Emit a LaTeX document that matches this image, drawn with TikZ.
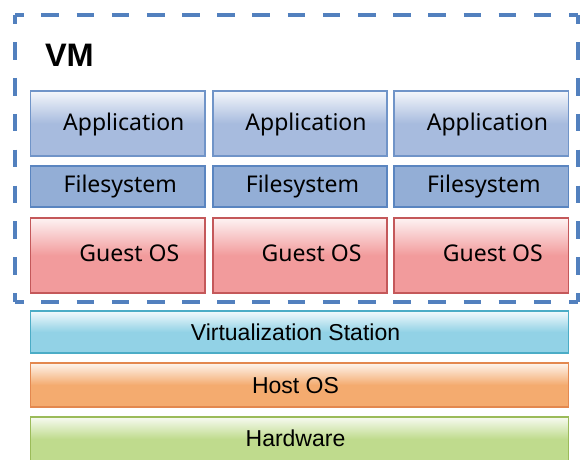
\documentclass[tikz,border=0pt]{standalone}
\usepackage{fontspec}
\newfontfamily\upfont{Noto Sans}
\newfontfamily\arfont{Liberation Sans}
\definecolor{vmline}{HTML}{5280BE}
\definecolor{appfill}{HTML}{A7BBDE}
\definecolor{appline}{HTML}{7094C8}
\definecolor{fsfill}{HTML}{93AED6}
\definecolor{fsline}{HTML}{5A85C0}
\definecolor{gofill}{HTML}{F29B9C}
\definecolor{goline}{HTML}{C4585A}
\definecolor{vsfill}{HTML}{92D2E6}
\definecolor{vsline}{HTML}{4BACC6}
\definecolor{hofill}{HTML}{F4AB6F}
\definecolor{holine}{HTML}{E3884F}
\definecolor{hwfill}{HTML}{BFDB8D}
\definecolor{hwline}{HTML}{9BBB59}
\tikzset{
  layerbox/.style 2 args={rectangle, draw=#2, line width=1.6pt, inner sep=0pt,
    top color=#1!12, bottom color=#1, middle color=#1},
  appbox/.style={layerbox={appfill}{appline}, minimum width=174.5pt, minimum height=65pt},
  fsbox/.style={rectangle, draw=fsline, fill=fsfill, line width=1.6pt, inner sep=0pt,
    minimum width=174.5pt, minimum height=41pt},
  gobox/.style={layerbox={gofill}{goline}, minimum width=174.5pt, minimum height=75pt},
  widebox/.style={minimum width=538pt, minimum height=#1},
  uptext/.style={anchor=base, inner sep=0pt, font=\upfont\fontsize{23}{27}\selectfont},
  lowtext/.style={anchor=base, inner sep=0pt, font=\arfont\fontsize{23}{27}\selectfont},
  hdash/.style={draw=vmline, line width=4pt, dash pattern=on 17.6pt off 17.57pt, dash phase=8.8pt},
  vdash/.style={draw=vmline, line width=4pt, dash pattern=on 17.6pt off 18.24pt, dash phase=8.8pt},
}
\begin{document}
\begin{tikzpicture}[x=1pt,y=-1pt]
\useasboundingbox (0,0) rectangle (583,459);
% VM frame
\node[rectangle, minimum width=562.7pt, minimum height=286.7pt, inner sep=0pt] (vm) at (296.65,158.65) {};
\draw[hdash] (vm.north west) -- (vm.north east);
\draw[hdash] (vm.south west) -- (vm.south east);
\draw[vdash] (vm.north west) -- (vm.south west);
\draw[vdash] (vm.north east) -- (vm.south east);
\node[anchor=base west, inner sep=0pt, font=\arfont\bfseries\fontsize{32.5}{36}\selectfont] (vmt) at (44.8,66.7) {VM};
% Application
\node[appbox] (a1) at (117.8,123.5) {};
\node[appbox] (a2) at (300,123.5) {};
\node[appbox] (a3) at (481.4,123.5) {};
\node[uptext] (a1t) at (123.8,130) {Application};
\node[uptext] (a2t) at (306,130) {Application};
\node[uptext] (a3t) at (487.4,130) {Application};
% Filesystem
\node[fsbox] (f1) at (117.8,186.5) {};
\node[fsbox] (f2) at (300,186.5) {};
\node[fsbox] (f3) at (481.4,186.5) {};
\node[uptext] (f1t) at (120.3,192.7) {Filesystem};
\node[uptext] (f2t) at (302.5,192.7) {Filesystem};
\node[uptext] (f3t) at (483.9,192.7) {Filesystem};
% Guest OS
\node[gobox] (g1) at (117.8,255.5) {};
\node[gobox] (g2) at (300,255.5) {};
\node[gobox] (g3) at (481.4,255.5) {};
\node[uptext] (g1t) at (129.3,261.7) {Guest OS};
\node[uptext] (g2t) at (311.5,261.7) {Guest OS};
\node[uptext] (g3t) at (492.9,261.7) {Guest OS};
% Lower layers
\node[layerbox={vsfill}{vsline}, widebox=42pt] (vs) at (299.6,332) {};
\node[lowtext] (vst) at (295.5,340.7) {Virtualization Station};
\node[layerbox={hofill}{holine}, widebox=44pt] (ho) at (299.6,385) {};
\node[lowtext] (hot) at (295.5,393) {Host OS};
\node[layerbox={hwfill}{hwline}, widebox=44pt] (hw) at (299.6,439) {};
\node[lowtext] (hwt) at (295.5,446.7) {Hardware};
\end{tikzpicture}
\end{document}
